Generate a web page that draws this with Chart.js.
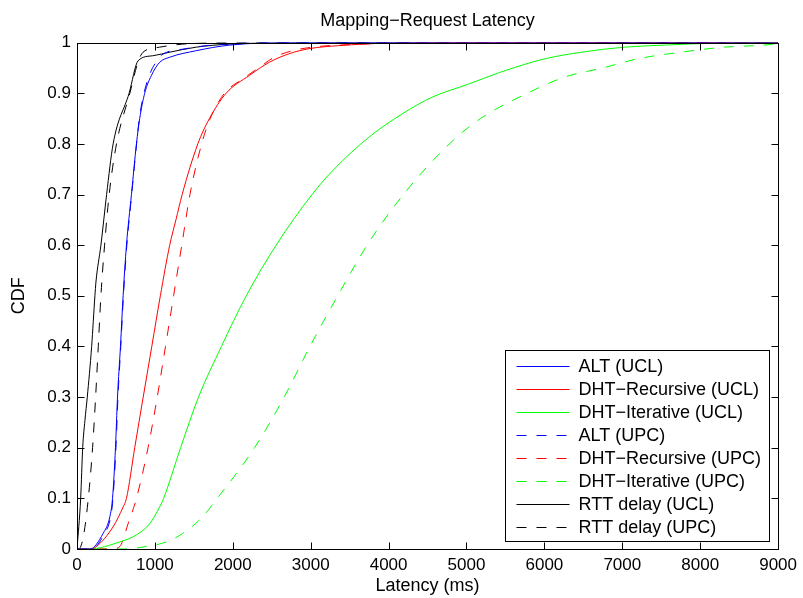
<!DOCTYPE html>
<html>
<head>
<meta charset="utf-8">
<script src="https://cdn.jsdelivr.net/npm/chart.js@4"></script>
<style>
  html, body { margin: 0; padding: 0; background: #fff; }
  #wrap { width: 803px; height: 598px; }
</style>
</head>
<body>
<div id="wrap"><canvas id="cdfChart"></canvas></div>
<script>
// latency (ms) / cumulative fraction pairs for each curve
const altUclMs  = [0, 166, 336, 422, 456, 494, 520, 558, 592, 635, 699, 763, 805, 869, 955, 1061, 1189, 1530, 1956, 2800, 9000];
const altUclCdf = [0, 0, 0.031, 0.064, 0.1, 0.2, 0.3, 0.4, 0.5, 0.6, 0.7, 0.8, 0.85, 0.9, 0.935, 0.961, 0.971, 0.984, 0.995, 1, 1];

const recUclMs  = [0, 180, 251, 464, 592, 635, 741, 850, 960, 1070, 1190, 1270, 1350, 1551, 1700, 1914, 2212, 2467, 2723, 2979, 3362, 4002, 5000, 9000];
const recUclCdf = [0, 0, 0.005, 0.044, 0.083, 0.1, 0.2, 0.3, 0.4, 0.5, 0.6, 0.65, 0.7, 0.8, 0.85, 0.9, 0.935, 0.961, 0.978, 0.988, 0.994, 0.999, 1, 1];

const iterUclMs  = [0, 150, 550, 763, 933, 1061, 1112, 1330, 1560, 1854, 2173, 2557, 3017, 3300, 3746, 4172, 4556, 5025, 5408, 5621, 6005, 6473, 7028, 7539, 8200, 9000];
const iterUclCdf = [0, 0, 0.014, 0.028, 0.05, 0.083, 0.1, 0.2, 0.3, 0.4, 0.5, 0.6, 0.7, 0.75, 0.813, 0.859, 0.892, 0.918, 0.94, 0.951, 0.968, 0.981, 0.991, 0.995, 0.999, 1];

const altUpcMs  = [0, 190, 350, 430, 462, 500, 526, 562, 596, 640, 702, 765, 800, 860, 940, 1030, 1083, 1400, 1800, 2500, 9000];
const altUpcCdf = [0, 0, 0.03, 0.062, 0.1, 0.2, 0.3, 0.4, 0.5, 0.6, 0.7, 0.8, 0.85, 0.9, 0.94, 0.965, 0.975, 0.988, 0.996, 1, 1];

const recUpcMs  = [0, 450, 550, 656, 763, 912, 1030, 1136, 1240, 1345, 1450, 1600, 1710, 1893, 2126, 2340, 2531, 2766, 3021, 3500, 4500, 9000];
const recUpcCdf = [0, 0, 0.005, 0.05, 0.1, 0.2, 0.3, 0.4, 0.5, 0.6, 0.7, 0.8, 0.85, 0.9, 0.928, 0.951, 0.971, 0.984, 0.991, 0.996, 1, 1];

const iterUpcMs  = [0, 600, 891, 1147, 1359, 1615, 1800, 2050, 2280, 2660, 2990, 3347, 3724, 4190, 4780, 5180, 5780, 6261, 6750, 7198, 7751, 8306, 8818, 9000];
const iterUpcCdf = [0, 0, 0.005, 0.014, 0.031, 0.064, 0.1, 0.15, 0.2, 0.3, 0.4, 0.5, 0.6, 0.7, 0.8, 0.85, 0.9, 0.932, 0.95, 0.968, 0.981, 0.991, 0.995, 0.998];

const rttUclMs  = [0, 47, 73, 102, 132, 188, 230, 243, 307, 380, 464, 669, 784, 972, 1189, 1530, 1956, 3000, 9000];
const rttUclCdf = [0, 0.1, 0.2, 0.254, 0.3, 0.4, 0.5, 0.527, 0.6, 0.7, 0.8, 0.9, 0.964, 0.974, 0.981, 0.991, 0.997, 1, 1];

const rttUpcMs  = [0, 20, 81, 145, 200, 239, 273, 307, 354, 413, 507, 678, 784, 848, 1061, 1355, 2000, 9000];
const rttUpcCdf = [0, 0, 0.024, 0.1, 0.2, 0.3, 0.4, 0.5, 0.6, 0.7, 0.8, 0.9, 0.962, 0.981, 0.991, 0.997, 1, 1];

const xTicks = [0, 1000, 2000, 3000, 4000, 5000, 6000, 7000, 8000, 9000];
const yTicks = [0, 0.1, 0.2, 0.3, 0.4, 0.5, 0.6, 0.7, 0.8, 0.9, 1];

const FONT = "'Liberation Sans', Arial, Helvetica, sans-serif";
const DASH = [10, 10];

function pts(xs, ys) {
  return xs.map((x, i) => ({ x: x, y: ys[i] }));
}

function series(label, xs, ys, color, dashed) {
  return {
    label: label,
    data: pts(xs, ys),
    borderColor: color,
    backgroundColor: color,
    borderWidth: 1,
    borderDash: dashed ? DASH : [],
    pointRadius: 0,
    cubicInterpolationMode: 'monotone',
    fill: false
  };
}

// inward ticks on all four sides + box + legend in the lower right corner
const matlabAxes = {
  id: 'matlabAxes',
  afterDatasetsDraw(chart) {
    const ctx = chart.ctx;
    const a = chart.chartArea;
    const xs = chart.scales.x, ys = chart.scales.y;
    const L = Math.round(a.left) + 0.5, R = Math.round(a.right) + 0.5;
    const T = Math.round(a.top) + 0.5, B = Math.round(a.bottom) + 0.5;
    const tl = 7;

    ctx.save();
    ctx.strokeStyle = '#000';
    ctx.lineWidth = 1;
    ctx.setLineDash([]);
    ctx.beginPath();
    xTicks.forEach(v => {
      const px = Math.round(xs.getPixelForValue(v)) + 0.5;
      ctx.moveTo(px, B); ctx.lineTo(px, B - tl);
      ctx.moveTo(px, T); ctx.lineTo(px, T + tl);
    });
    yTicks.forEach(v => {
      const py = Math.round(ys.getPixelForValue(v)) + 0.5;
      ctx.moveTo(L, py); ctx.lineTo(L + tl, py);
      ctx.moveTo(R, py); ctx.lineTo(R - tl, py);
    });
    ctx.stroke();
    ctx.strokeRect(L, T, R - L, B - T);

    // legend
    const sets = chart.data.datasets;
    ctx.font = '18px ' + FONT;
    let maxW = 0;
    sets.forEach(d => { maxW = Math.max(maxW, ctx.measureText(d.label).width); });
    const padL = 11, lineLen = 53, gap = 9, padR = 8, rowH = 23, padV = 15;
    const w = Math.round(padL + lineLen + gap + maxW + padR);
    const h = padV * 2 + rowH * (sets.length - 1);
    const bx = Math.round(a.right) - 9 - w + 0.5;
    const by = Math.round(a.bottom) - 8 - h + 0.5;
    ctx.fillStyle = '#fff';
    ctx.fillRect(bx, by, w, h);
    ctx.strokeStyle = '#000';
    ctx.strokeRect(bx, by, w, h);
    ctx.textBaseline = 'middle';
    ctx.textAlign = 'left';
    sets.forEach((d, i) => {
      const cy = Math.round(by + padV + i * rowH) + 0.5;
      ctx.strokeStyle = d.borderColor;
      ctx.setLineDash(d.borderDash || []);
      ctx.beginPath();
      ctx.moveTo(bx + padL, cy);
      ctx.lineTo(bx + padL + lineLen, cy);
      ctx.stroke();
      ctx.fillStyle = '#000';
      ctx.fillText(d.label, bx + padL + lineLen + gap, cy + 1);
    });
    ctx.restore();
  }
};

const cdfCtx = document.getElementById('cdfChart').getContext('2d');
const cdfChart = new Chart(cdfCtx, {
  type: 'line',
  data: {
    datasets: [
      series('ALT (UCL)', altUclMs, altUclCdf, '#0000ff', false),
      series('DHT\u2212Recursive (UCL)', recUclMs, recUclCdf, '#ff0000', false),
      series('DHT\u2212Iterative (UCL)', iterUclMs, iterUclCdf, '#00ff00', false),
      series('ALT (UPC)', altUpcMs, altUpcCdf, '#0000ff', true),
      series('DHT\u2212Recursive (UPC)', recUpcMs, recUpcCdf, '#ff0000', true),
      series('DHT\u2212Iterative (UPC)', iterUpcMs, iterUpcCdf, '#00ff00', true),
      series('RTT delay (UCL)', rttUclMs, rttUclCdf, '#000000', false),
      series('RTT delay (UPC)', rttUpcMs, rttUpcCdf, '#000000', true)
    ]
  },
  options: {
    responsive: true,
    maintainAspectRatio: false,
    animation: false,
    layout: { padding: { top: 0, right: 22, bottom: 0, left: 0 } },
    scales: {
      x: {
        type: 'linear',
        min: 0,
        max: 9000,
        grid: { display: false, drawTicks: false },
        border: { display: false },
        afterFit: s => { s.height = 49; },
        afterBuildTicks: s => { s.ticks = xTicks.map(v => ({ value: v })); },
        ticks: {
          color: '#000',
          padding: 6,
          maxRotation: 0,
          autoSkip: false,
          font: { family: FONT, size: 17 },
          callback: v => String(v)
        },
        title: {
          display: true,
          text: 'Latency (ms)',
          color: '#000',
          font: { family: FONT, size: 18 },
          padding: { top: 0, bottom: 1 }
        }
      },
      y: {
        type: 'linear',
        min: 0,
        max: 1,
        grid: { display: false, drawTicks: false },
        border: { display: false },
        afterFit: s => { s.width = 77; },
        afterBuildTicks: s => { s.ticks = yTicks.map(v => ({ value: v })); },
        ticks: {
          color: '#000',
          padding: 6,
          autoSkip: false,
          font: { family: FONT, size: 17 },
          callback: v => String(Math.round(v * 10) / 10)
        },
        title: {
          display: true,
          text: 'CDF',
          color: '#000',
          font: { family: FONT, size: 18 },
          padding: { top: 8, bottom: 0 }
        }
      }
    },
    plugins: {
      legend: { display: false },
      tooltip: { enabled: false },
      title: {
        display: true,
        fullSize: false,
        text: 'Mapping\u2212Request Latency',
        color: '#000',
        font: { family: FONT, size: 18, weight: 'normal' },
        padding: { top: 10, bottom: 11 }
      }
    }
  },
  plugins: [matlabAxes]
});
</script>
</body>
</html>
